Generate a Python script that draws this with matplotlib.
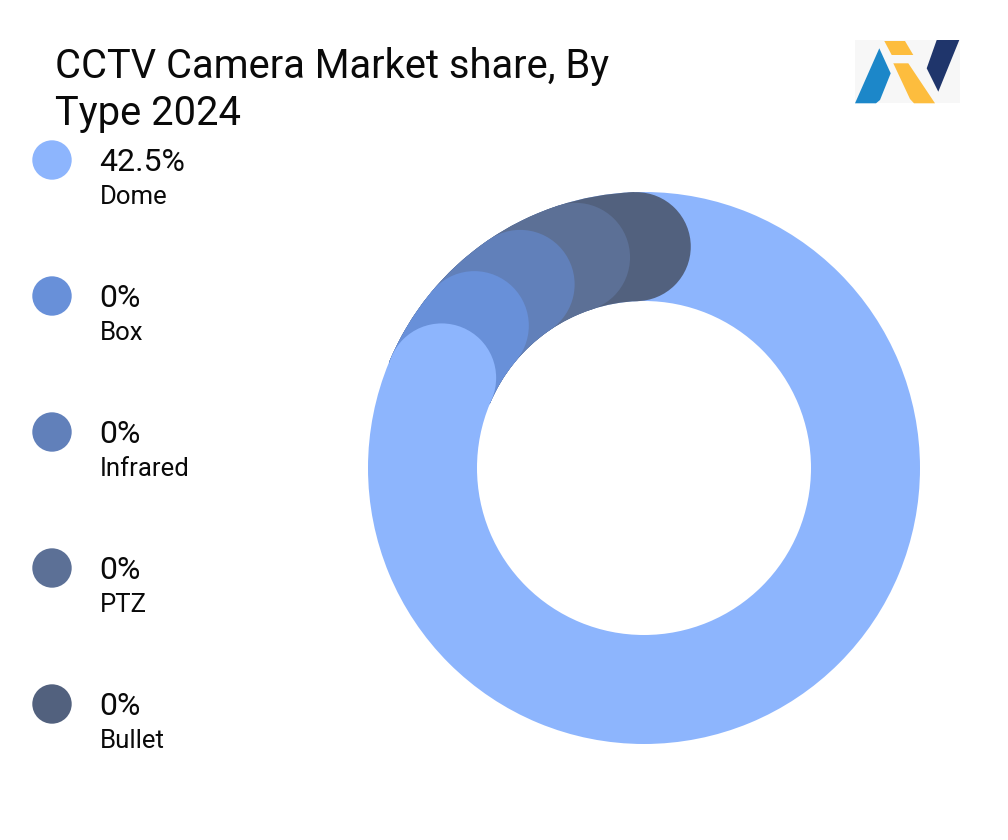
import matplotlib
matplotlib.use("Agg")
import matplotlib.pyplot as plt
from matplotlib.patches import Wedge, Circle, Polygon, Rectangle
import numpy as np

plt.rcParams['font.family'] = ['Roboto', 'DejaVu Sans']

# ---- data ----
categories = ["Dome", "Box", "Infrared", "PTZ", "Bullet"]
values = [42.5, 0, 0, 0, 0]
value_labels = ["42.5%", "0%", "0%", "0%", "0%"]
colors = ["#8db5fd", "#6890d9", "#6180ba", "#5c7096", "#52617e"]
title_lines = ["CCTV Camera Market share, By", "Type 2024"]

W, H = 1008, 840
fig = plt.figure(figsize=(W / 100, H / 100), dpi=100)
ax = fig.add_axes([0, 0, 1, 1])
ax.set_xlim(0, W)
ax.set_ylim(0, H)
ax.set_aspect('equal')
ax.axis('off')

def Y(y):
    return H - y

# ---- donut (rounded-cap segments) ----
cx, cy = 644, Y(468)
r_out, r_in = 276, 167
width = r_out - r_in
r_mid = (r_out + r_in) / 2
cap_r = width / 2
start_angle = 92     # cap of last segment
cap_step = 16        # spacing of the stacked zero-value caps

total = sum(values)
n = len(categories)
cap_angles = [start_angle + cap_step * (n - 1 - i) for i in range(n)]
dome_end = cap_angles[0]

# main (Dome) ring
ax.add_patch(Wedge((cx, cy), r_out, 0, 360, width=width, color=colors[0], lw=0))

# zero-value segments drawn back to front (last category first)
for i in range(n - 1, 0, -1):
    a = cap_angles[i]
    ax.add_patch(Wedge((cx, cy), r_out, a, dome_end + 1.5, width=width,
                       color=colors[i], lw=0))
    ax.add_patch(Circle((cx + r_mid * np.cos(np.radians(a)),
                         cy + r_mid * np.sin(np.radians(a))), cap_r,
                        color=colors[i], lw=0))
# Dome cap on top
a = cap_angles[0]
ax.add_patch(Circle((cx + r_mid * np.cos(np.radians(a)),
                     cy + r_mid * np.sin(np.radians(a))), cap_r,
                    color=colors[0], lw=0))

# ---- title ----
ax.text(55, Y(78), title_lines[0], fontsize=28.7,
        color="#0a0a0a", ha='left', va='baseline')
ax.text(55, Y(125), title_lines[1], fontsize=28.7,
        color="#0a0a0a", ha='left', va='baseline')

# ---- legend ----
leg_y0, leg_dy = 160, 136
for i, (cat, lab) in enumerate(zip(categories, value_labels)):
    yy = leg_y0 + i * leg_dy
    ax.add_patch(Circle((52, Y(yy)), 19.7, color=colors[i], lw=0))
    ax.text(99, Y(yy + 11), lab, fontsize=23, color="#0a0a0a",
            ha='left', va='baseline')
    ax.text(99.5, Y(yy + 43.5), cat, fontsize=18.5, color="#0a0a0a",
            ha='left', va='baseline')

# ---- logo ----
ax.add_patch(Rectangle((855, Y(103)), 105, 63, color="#f7f7f7", lw=0))
logo_blue = [(855, 103.3), (879.3, 48.3), (890.7, 73.3), (880, 100), (876, 103.3)]
logo_gold1 = [(884.3, 41), (905, 41), (913.3, 55), (891.7, 55)]
logo_gold2 = [(893.3, 63.3), (908.3, 63.3), (935, 103.3), (914, 103.3), (910, 99)]
logo_navy = [(936.7, 40), (959.3, 40), (938.3, 91.7), (926.7, 68.3)]
for pts, c in [(logo_blue, "#1c87c9"), (logo_gold1, "#fdbd3e"),
               (logo_gold2, "#fdbd3e"), (logo_navy, "#1f356b")]:
    ax.add_patch(Polygon([(x, Y(y)) for x, y in pts], closed=True, color=c, lw=0))

fig.savefig("out.png", dpi=100, facecolor="white")
